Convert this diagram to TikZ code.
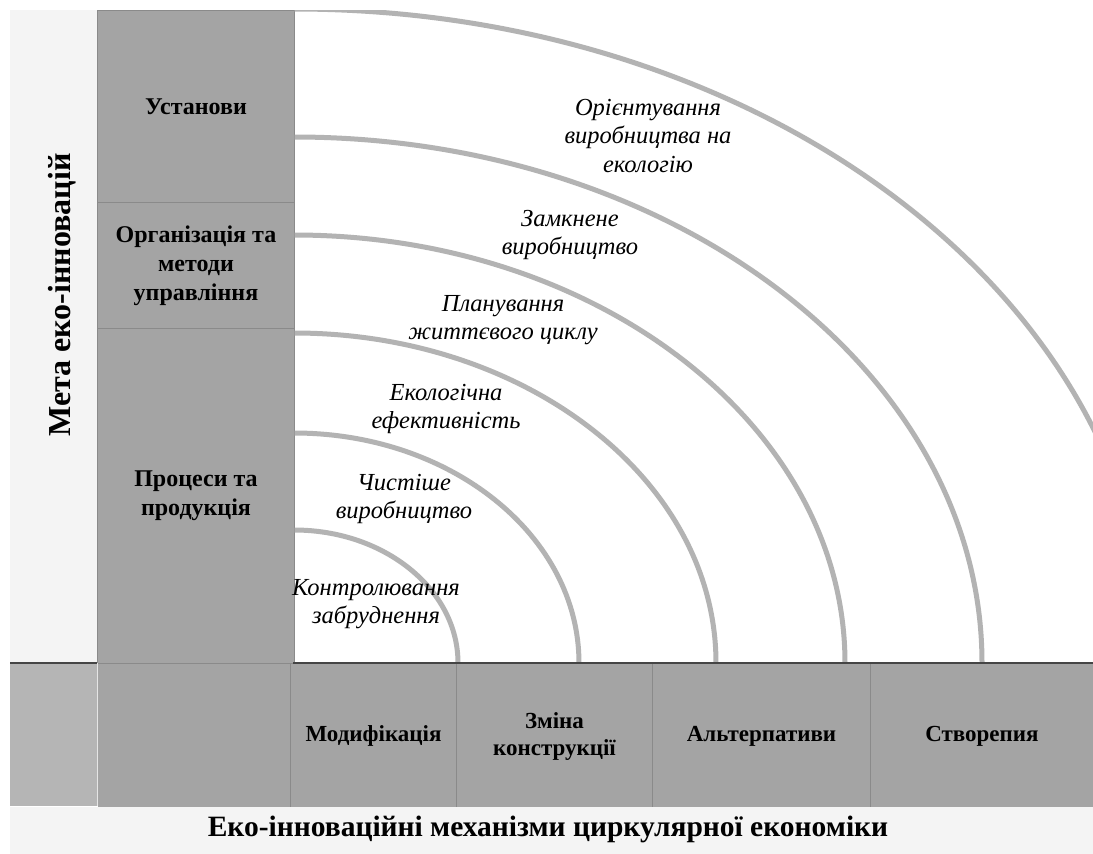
\documentclass[tikz,border=0pt]{standalone}
\usepackage{fontspec}
\setmainfont{Liberation Serif}
\definecolor{cellgray}{HTML}{A4A4A4}
\definecolor{lightbg}{HTML}{F4F4F4}
\definecolor{arcgray}{HTML}{B3B3B3}
\definecolor{cornergray}{HTML}{B5B5B5}
\definecolor{cellline}{HTML}{8A8A8A}
\definecolor{darkline}{HTML}{454545}
\begin{document}
\begin{tikzpicture}[x=1pt,y=-1pt,
  cell/.style={fill=cellgray, draw=cellline, line width=1pt, inner sep=0pt, anchor=north west, align=center,
    font=\bfseries\fontsize{24}{29}\selectfont},
  bcell/.style={cell, font=\bfseries\fontsize{23}{27}\selectfont},
  arclabel/.style={align=center, inner sep=0pt, font=\itshape\fontsize{24.5}{28.5}\selectfont},
  arcline/.style={draw=arcgray, line width=5pt}]
\useasboundingbox (0,0) rectangle (1093,854);
\fill[white] (0,0) rectangle (1093,854);
% left label strip
\fill[lightbg] (10,10) rectangle (97,663);
\node[rotate=90, inner sep=0pt, font=\bfseries\fontsize{32}{36}\selectfont] (goal) at (62,295) {Мета еко-інновацій};
% goal column
\node[cell, minimum width=197pt, minimum height=192pt] (inst) at (97,10) {Установи};
\node[cell, minimum width=197pt, minimum height=126pt] (org) at (97,202) {Організація та\\методи\\управління};
\node[cell, minimum width=197pt, minimum height=335pt] (proc) at (97,328) {Процеси та\\продукція};
% bottom row
\fill[cornergray] (10,663) rectangle (97,806);
\node[cell, draw=none, minimum width=193pt, minimum height=143pt] (blank) at (97,663) {};
\draw[white!80!gray, line width=1pt] (97,663) -- (97,806);
\node[bcell, minimum width=166pt, minimum height=145pt] (mod) at (290,663) {Модифікація};
\node[bcell, minimum width=196pt, minimum height=145pt] (chg) at (456,663) {Зміна\\конструкції};
\node[bcell, minimum width=218pt, minimum height=145pt] (alt) at (652,663) {Альтерпативи};
\node[bcell, minimum width=223pt, minimum height=145pt] (crt) at (870,663) {Створепия};
% bottom strip
\fill[lightbg] (10,807) rectangle (1093,854);
\node[inner sep=0pt, font=\bfseries\fontsize{29.5}{34}\selectfont] (mech) at (548,829) {Еко-інноваційні механізми циркулярної економіки};
% white field with arcs
\begin{scope}
\clip (294.5,10) rectangle (1093,661);
\fill[white] (294.5,10) rectangle (1093,661);
\draw[arcline] (458,663) arc[start angle=0, end angle=90, x radius=164pt, y radius=133pt];
\draw[arcline] (579,663) arc[start angle=0, end angle=90, x radius=285pt, y radius=230pt];
\draw[arcline] (716,663) arc[start angle=0, end angle=90, x radius=422pt, y radius=330pt];
\draw[arcline] (845,663) arc[start angle=0, end angle=90, x radius=551pt, y radius=428pt];
\draw[arcline] (982,663) arc[start angle=0, end angle=90, x radius=688pt, y radius=526pt];
\draw[arcline] (1150,663) arc[start angle=0, end angle=90, x radius=856pt, y radius=654pt];
\end{scope}
\draw[darkline, line width=1.5pt] (293,663) -- (1093,663);
\draw[darkline, line width=1.5pt] (10,663) -- (97,663);
% arc labels
\node[arclabel] (l6) at (648,136) {Орієнтування\\виробництва на\\екологію};
\node[arclabel] (l5) at (570,235) {Замкнене\\виробництво};
\node[arclabel] (l4) at (503,320) {Планування\\життєвого циклу};
\node[arclabel] (l3) at (446,409) {Екологічна\\ефективність};
\node[arclabel] (l2) at (404,499) {Чистіше\\виробництво};
\node[arclabel] (l1) at (376,604) {Контролювання\\забруднення};
\end{tikzpicture}
\end{document}
